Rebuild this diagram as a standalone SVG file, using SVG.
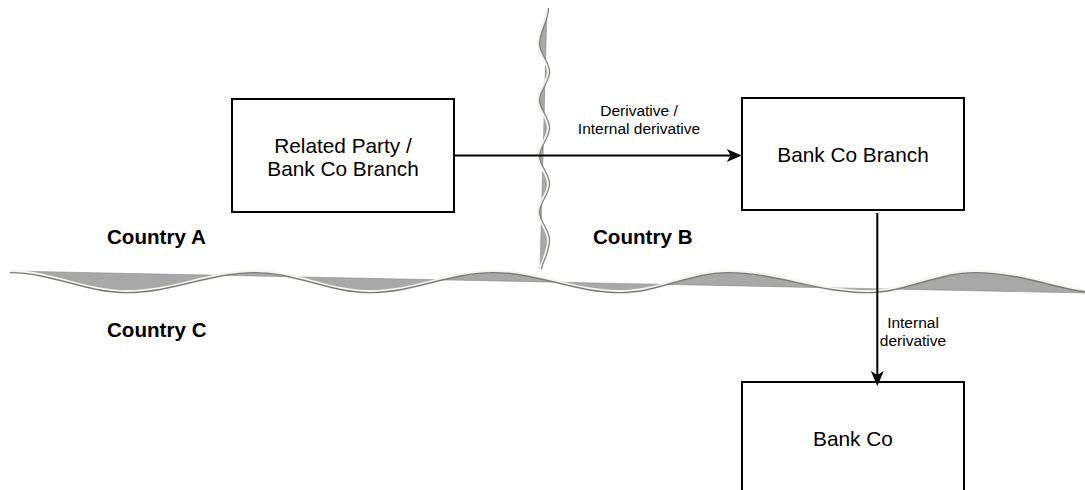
<svg xmlns="http://www.w3.org/2000/svg" width="1085" height="490" viewBox="0 0 1085 490">
<style>
.box{fill:#fff;stroke:#000;stroke-width:2}
.bt{font-family:"Liberation Sans",Arial,sans-serif;font-size:20.8px;fill:#000;text-anchor:middle}
.lb{font-family:"Liberation Sans",Arial,sans-serif;font-size:15.5px;fill:#000;text-anchor:middle}
.ct{font-family:"Liberation Sans",Arial,sans-serif;font-size:20.6px;font-weight:bold;fill:#000}
.edge{stroke:#000;stroke-width:2;fill:none}
.wfill{fill:#a8a8a8;stroke:#8a8a8a;stroke-width:0.6}
.wshadow{fill:none;stroke:#7a7a7a;stroke-width:2.6}
.wline{fill:none;stroke:#f6f6ee;stroke-width:1.8}
</style>
<defs>
<marker id="arr" markerUnits="userSpaceOnUse" viewBox="-6 -7 17 14" markerWidth="17" markerHeight="14" refX="0" refY="0" orient="auto">
<path d="M10,0 L-5,-6.5 L-1,0 L-5,6.5 Z" fill="#000"/>
</marker>
</defs>

<g id="border-horizontal">
<path class="wfill" d="M10,271 C52.1,271 84.9,291 127,291 C173.1,291 208.9,271 255,271 C296.4,271 328.6,291 370,291 C414.3,291 448.7,271 493,271 C538.7,271 574.3,291 620,291 C658.9,291 689.1,271 728,271 C778,271 817,291 867,291 C905.9,291 936.1,271 975,271 C1019,271 1060,288 1085,290 L1085,293 Z"/>
<path class="wshadow" transform="translate(0,1)" d="M10,271 C52.1,271 84.9,291 127,291 C173.1,291 208.9,271 255,271 C296.4,271 328.6,291 370,291 C414.3,291 448.7,271 493,271 C538.7,271 574.3,291 620,291 C658.9,291 689.1,271 728,271 C778,271 817,291 867,291 C905.9,291 936.1,271 975,271 C1019,271 1060,288 1085,290"/>
<path class="wline" d="M10,271 C52.1,271 84.9,291 127,291 C173.1,291 208.9,271 255,271 C296.4,271 328.6,291 370,291 C414.3,291 448.7,271 493,271 C538.7,271 574.3,291 620,291 C658.9,291 689.1,271 728,271 C778,271 817,291 867,291 C905.9,291 936.1,271 975,271 C1019,271 1060,288 1085,290"/>
</g>

<g id="border-vertical">
<path class="wfill" d="M547,8 C547,21 538,31 538,44 C538,54 548,62 548,72 C548,82 538,90 538,100 C538,110 548,118 548,128 C548,138 538,146 538,156 C538,166 548,174 548,184 C548,194 538,202 538,212 C538,222 548,230 548,240 C548,252 541,262 540,269 Z"/>
<path class="wshadow" transform="translate(0.8,0)" d="M547,8 C547,21 538,31 538,44 C538,54 548,62 548,72 C548,82 538,90 538,100 C538,110 548,118 548,128 C548,138 538,146 538,156 C538,166 548,174 548,184 C548,194 538,202 538,212 C538,222 548,230 548,240 C548,252 541,262 540,269"/>
<path class="wline" d="M547,8 C547,21 538,31 538,44 C538,54 548,62 548,72 C548,82 538,90 538,100 C538,110 548,118 548,128 C548,138 538,146 538,156 C538,166 548,174 548,184 C548,194 538,202 538,212 C538,222 548,230 548,240 C548,252 541,262 540,269"/>
</g>

<g id="country-labels">
<text class="ct" x="107" y="244">Country A</text>
<text class="ct" x="593" y="244">Country B</text>
<text class="ct" x="107" y="337">Country C</text>
</g>

<g id="node-related-party">
<rect class="box" x="232" y="99" width="222" height="113"/>
<text class="bt" x="343" y="152.8">Related Party /</text>
<text class="bt" x="343" y="176.2">Bank Co Branch</text>
</g>

<g id="node-bank-co-branch">
<rect class="box" x="742" y="98" width="222" height="112"/>
<text class="bt" x="853" y="162">Bank Co Branch</text>
</g>

<g id="node-bank-co">
<rect class="box" x="742" y="382" width="222" height="130"/>
<text class="bt" x="853" y="445.5">Bank Co</text>
</g>

<g id="connectors">
<line class="edge" x1="454" y1="155.5" x2="731.7" y2="155.5" marker-end="url(#arr)"/>
<line class="edge" x1="877.3" y1="213" x2="877.3" y2="376" marker-end="url(#arr)"/>
<text class="lb" x="639" y="115.8">Derivative /</text>
<text class="lb" x="639" y="133.5">Internal derivative</text>
<text class="lb" x="913" y="327.8">Internal</text>
<text class="lb" x="913" y="345.5">derivative</text>
</g>
</svg>
